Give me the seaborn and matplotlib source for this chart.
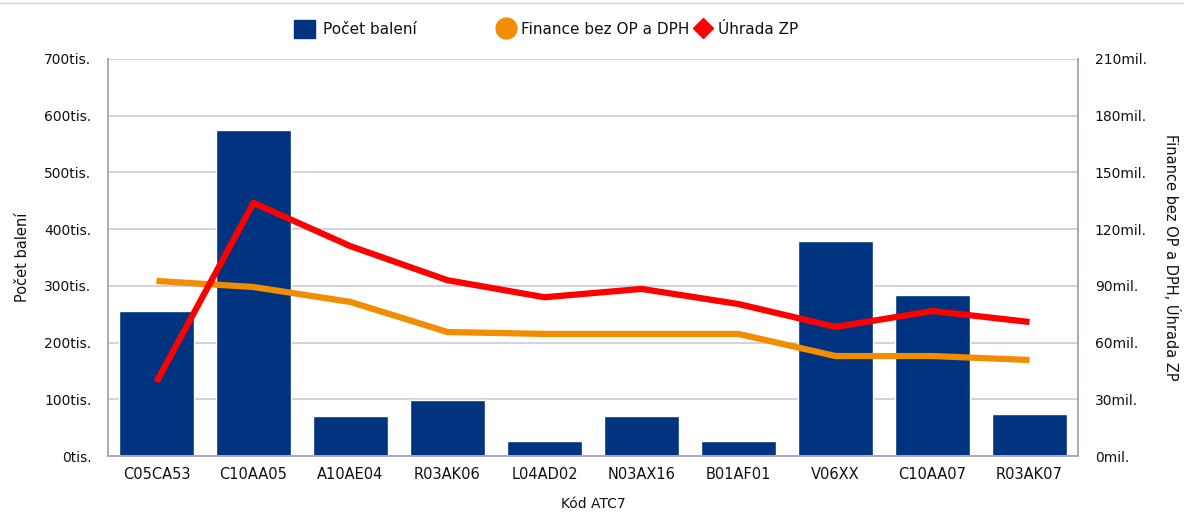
import numpy as np
import pandas as pd
import matplotlib
matplotlib.use("Agg")
import matplotlib.pyplot as plt
from matplotlib.lines import Line2D
from matplotlib.patches import Patch
from matplotlib.ticker import FuncFormatter, MultipleLocator
import seaborn as sns

# Data
kody = ["C05CA53", "C10AA05", "A10AE04", "R03AK06", "L04AD02",
        "N03AX16", "B01AF01", "V06XX", "C10AA07", "R03AK07"]
pocet_baleni = [256000, 575000, 70000, 99000, 26000, 70000, 26000, 379000, 284000, 74000]
finance = [92.6, 89.4, 81.5, 65.6, 64.6, 64.6, 64.6, 52.9, 52.9, 50.8]  # mil.
uhrada = [39.2, 133.9, 111.0, 93.0, 84.0, 88.4, 80.4, 68.3, 76.7, 70.9]  # mil.

df = pd.DataFrame({"kod": kody, "pocet": pocet_baleni,
                   "finance": finance, "uhrada": uhrada})

c_bar = "#003380"
c_orange = "#f28c00"
c_red = "#ff0000"
c_grid = "#c9c9dd"
c_spine = "#a8a8c4"
c_text = "#111111"

sns.set_theme(style="white")
plt.rcParams["font.family"] = ["DejaVu Sans"]

fig = plt.figure(figsize=(11.84, 5.13), dpi=100)
ax = fig.add_axes([0.0912, 0.111, 0.8193, 0.774])

sns.barplot(data=df, x="kod", y="pocet", color=c_bar, saturation=1,
            width=0.77, ax=ax, zorder=2)
ax.set_ylim(0, 700000)
ax.set_xlim(-0.5, len(kody) - 0.5)
ax.yaxis.set_major_locator(MultipleLocator(100000))
ax.yaxis.set_major_formatter(FuncFormatter(lambda v, p: f"{v/1000:.0f}tis."))
ax.grid(axis="y", color=c_grid, linewidth=1.2, zorder=0)
ax.set_axisbelow(True)
ax.set_xlabel("Kód ATC7", fontsize=10, labelpad=11, color=c_text)
ax.set_ylabel("Počet balení", fontsize=10.5, labelpad=10, color=c_text)
ax.tick_params(axis="both", length=0, labelsize=10, colors=c_text)
ax.tick_params(axis="x", pad=8, labelsize=10.5)
ax.tick_params(axis="y", pad=12)

ax2 = ax.twinx()
ax2.plot(df["kod"], df["finance"], color=c_orange, linewidth=4.5,
         solid_capstyle="butt", solid_joinstyle="round", zorder=3)
ax2.plot(df["kod"], df["uhrada"], color=c_red, linewidth=4.5,
         solid_capstyle="butt", solid_joinstyle="round", zorder=4)
ax2.set_ylim(0, 210)
ax2.set_xlim(-0.5, len(kody) - 0.5)
ax2.yaxis.set_major_locator(MultipleLocator(30))
ax2.yaxis.set_major_formatter(FuncFormatter(lambda v, p: f"{v:.0f}mil."))
ax2.set_ylabel("Finance bez OP a DPH, Úhrada ZP", fontsize=10.5,
               rotation=270, labelpad=24, color=c_text)
ax2.tick_params(axis="y", length=0, labelsize=10, colors=c_text, pad=12)
ax2.grid(False)

for a in (ax, ax2):
    for s in a.spines.values():
        s.set_color(c_spine)
        s.set_linewidth(1.2)
    a.spines["top"].set_visible(False)

# thin grey line at the very top of the image
fig.add_artist(Line2D([0, 1], [0.994, 0.994], color="#d0d0d0", linewidth=1))

# legend: bar entry on its own, the two line entries grouped together
fig.legend([Patch(facecolor=c_bar, edgecolor=c_bar)], ["Počet balení"],
           loc="center", bbox_to_anchor=(0.300, 0.943), frameon=False,
           fontsize=11, handlelength=1.4, handleheight=1.4,
           handletextpad=0.5, labelcolor=c_text)
handles = [
    Line2D([], [], marker="o", linestyle="", color=c_orange, markersize=15),
    Line2D([], [], marker="D", linestyle="", color=c_red, markersize=10),
]
fig.legend(handles, ["Finance bez OP a DPH", "Úhrada ZP"], loc="center",
           bbox_to_anchor=(0.547, 0.943), ncol=2, frameon=False, fontsize=11,
           handlelength=1.2, handletextpad=0.4, columnspacing=0.3,
           labelcolor=c_text)

fig.savefig("out.png", dpi=100)
